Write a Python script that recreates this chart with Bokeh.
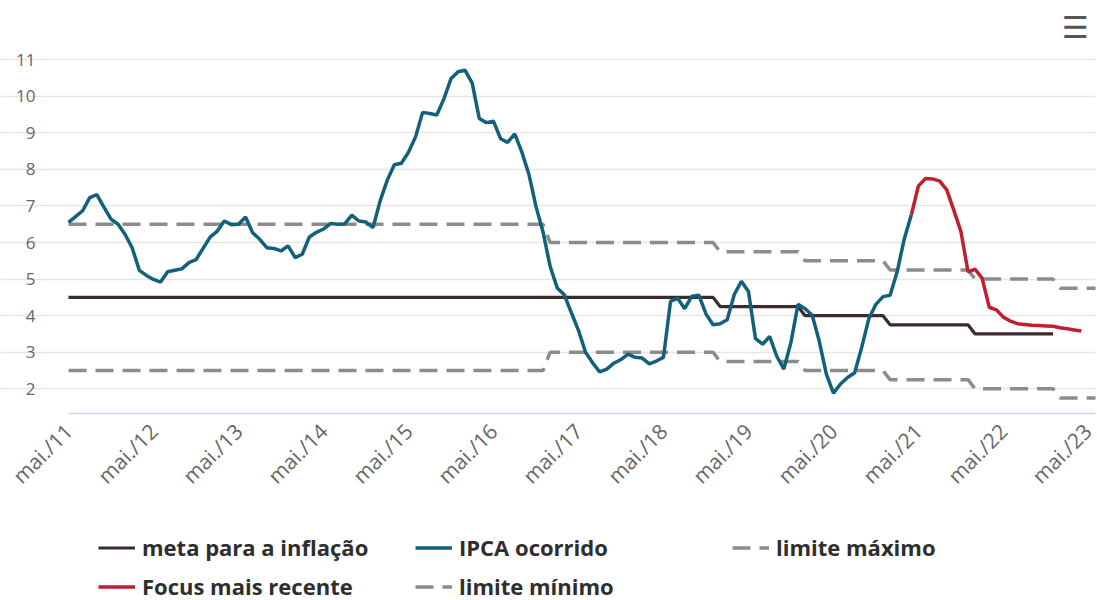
import math
from bokeh.plotting import figure
from bokeh.models import FixedTicker, Legend, LegendItem, Label, Range1d
from bokeh.embed import file_html
from bokeh.resources import INLINE

# ---------------- data ----------------
first_year, first_month = 2011, 5          # series start: mai./11
tick_labels = ["mai./11", "mai./12", "mai./13", "mai./14", "mai./15", "mai./16", "mai./17",
               "mai./18", "mai./19", "mai./20", "mai./21", "mai./22", "mai./23"]

# IPCA 12-month accumulated, monthly from May 2011 to Apr 2021
ipca_ocorrido = [
    6.55, 6.71, 6.87, 7.23, 7.31, 6.97, 6.64, 6.50,
    6.22, 5.85, 5.24, 5.10, 4.99, 4.92, 5.20, 5.24, 5.28, 5.45, 5.53, 5.84,
    6.15, 6.31, 6.59, 6.49, 6.50, 6.70, 6.27, 6.09, 5.86, 5.84, 5.77, 5.91,
    5.59, 5.68, 6.15, 6.28, 6.37, 6.52, 6.50, 6.51, 6.75, 6.59, 6.56, 6.41,
    7.14, 7.70, 8.13, 8.17, 8.47, 8.89, 9.56, 9.53, 9.49, 9.93, 10.48, 10.67,
    10.71, 10.36, 9.39, 9.28, 9.32, 8.84, 8.74, 8.97, 8.48, 7.87, 6.99, 6.29,
    5.35, 4.76, 4.57, 4.08, 3.60, 3.00, 2.71, 2.46, 2.54, 2.70, 2.80, 2.95,
    2.86, 2.84, 2.68, 2.76, 2.86, 4.39, 4.48, 4.19, 4.53, 4.56, 4.05, 3.75,
    3.78, 3.89, 4.58, 4.94, 4.66, 3.37, 3.22, 3.43, 2.89, 2.54, 3.27, 4.31,
    4.19, 4.01, 3.30, 2.40, 1.88, 2.13, 2.31, 2.44, 3.14, 3.92, 4.31, 4.52,
    4.56, 5.20, 6.10, 6.76,
]

# Focus projection, monthly from Apr 2021 to Apr 2023
focus_start = (2021, 4)
focus_recente = [6.76, 7.55, 7.75, 7.74, 7.68, 7.44, 6.88, 6.30, 5.20, 5.27, 5.02, 4.23,
                 4.16, 3.96, 3.85, 3.78, 3.76, 3.74, 3.73, 3.72, 3.71, 3.67, 3.64, 3.61, 3.58]

# Inflation target and tolerance per calendar year
anos = [2011, 2012, 2013, 2014, 2015, 2016, 2017, 2018, 2019, 2020, 2021, 2022, 2023]
meta = [4.5, 4.5, 4.5, 4.5, 4.5, 4.5, 4.5, 4.5, 4.25, 4.0, 3.75, 3.5, 3.25]
tolerancia = [2.0, 2.0, 2.0, 2.0, 2.0, 2.0, 1.5, 1.5, 1.5, 1.5, 1.5, 1.5, 1.5]
meta_fim = (2022, 12)
limites_fim = (2023, 7)
x_axis_end = 145           # months after mai./11 where the plot area ends
y_axis_floor = 1.33        # value where the x axis line sits

# ---------------- helpers ----------------
def midx(year, month):
    return (year - first_year) * 12 + (month - first_month)

def year_of(m):
    return first_year + (m + first_month - 1) // 12

x_ipca = list(range(len(ipca_ocorrido)))
f0 = midx(*focus_start)
x_focus = list(range(f0, f0 + len(focus_recente)))

x_meta = list(range(0, midx(*meta_fim) + 1))
y_meta = [meta[anos.index(year_of(m))] for m in x_meta]

x_lim = list(range(0, midx(*limites_fim) + 1))
y_max = [meta[anos.index(year_of(m))] + tolerancia[anos.index(year_of(m))] for m in x_lim]
y_min = [meta[anos.index(year_of(m))] - tolerancia[anos.index(year_of(m))] for m in x_lim]

# ---------------- figure ----------------
# The frame covers the whole canvas; both axes are drawn at fixed values inside it,
# so tick labels and the legend below the plot area are not clipped.
p = figure(frame_width=1095, frame_height=600, output_backend="svg", toolbar_location=None,
           x_range=Range1d(-9.6, x_axis_end), y_range=Range1d(-3.79, 12.62),
           min_border_left=0, min_border_right=2, min_border_top=0, min_border_bottom=0)
p.outline_line_color = None
p.background_fill_color = "white"
p.xgrid.grid_line_color = None
p.ygrid.grid_line_color = "#e6e6e6"
p.ygrid.grid_line_width = 1.5
p.ygrid.bounds = (0, x_axis_end)

p.yaxis.fixed_location = 0
p.yaxis.ticker = FixedTicker(ticks=list(range(2, 12)))
p.yaxis.axis_line_color = None
p.yaxis.major_tick_line_color = None
p.yaxis.minor_tick_line_color = None
p.yaxis.major_label_text_font = "Open Sans"
p.yaxis.major_label_text_font_size = "17px"
p.yaxis.major_label_text_color = "#666666"
p.yaxis.major_label_standoff = 27

xticks = [i * 12 for i in range(len(tick_labels))]
p.xaxis.fixed_location = y_axis_floor
p.xaxis.bounds = (0, x_axis_end)
p.xaxis.ticker = FixedTicker(ticks=xticks)
p.xaxis.major_label_overrides = {t: lab for t, lab in zip(xticks, tick_labels)}
p.xaxis.major_label_orientation = math.pi / 4
p.xaxis.axis_line_color = "#ccd6eb"
p.xaxis.axis_line_width = 1.5
p.xaxis.major_tick_line_color = None
p.xaxis.minor_tick_line_color = None
p.xaxis.major_label_text_font = "Open Sans"
p.xaxis.major_label_text_font_size = "21px"
p.xaxis.major_label_text_color = "#666666"
p.xaxis.major_label_standoff = 8

gray = "#8c8c8c"
r_max = p.line(x_lim, y_max, line_color=gray, line_width=3.5, line_dash="18 9")
r_min = p.line(x_lim, y_min, line_color=gray, line_width=3.5, line_dash="18 9")
r_meta = p.line(x_meta, y_meta, line_color="#3b2a2e", line_width=3.2)
r_ipca = p.line(x_ipca, ipca_ocorrido, line_color="#13607c", line_width=3.5)
r_focus = p.line(x_focus, focus_recente, line_color="#c01f2f", line_width=3.5)

legend = Legend(items=[
    LegendItem(label="meta para a inflação", renderers=[r_meta]),
    LegendItem(label="IPCA ocorrido", renderers=[r_ipca]),
    LegendItem(label="limite máximo", renderers=[r_max]),
    LegendItem(label="Focus mais recente", renderers=[r_focus]),
    LegendItem(label="limite mínimo", renderers=[r_min]),
], orientation="horizontal", ncols=3, location=(98, -1))
legend.label_text_font = "Open Sans"
legend.label_text_font_style = "bold"
legend.label_text_font_size = "22px"
legend.label_text_color = "#2e2e2e"
legend.glyph_width = 37
legend.glyph_height = 25
legend.label_height = 25
legend.label_standoff = 7
legend.label_width = 264
legend.spacing = 9
legend.padding = 0
legend.margin = 0
legend.border_line_color = None
legend.background_fill_alpha = 0
p.add_layout(legend, "center")

menu = Label(x=1075, y=573, x_units="screen", y_units="screen", text="☰",
             text_align="center", text_baseline="middle", text_font="DejaVu Sans",
             text_font_size="30px", text_color="#555555")
p.add_layout(menu)

open("out.html", "w").write(file_html(p, INLINE))
